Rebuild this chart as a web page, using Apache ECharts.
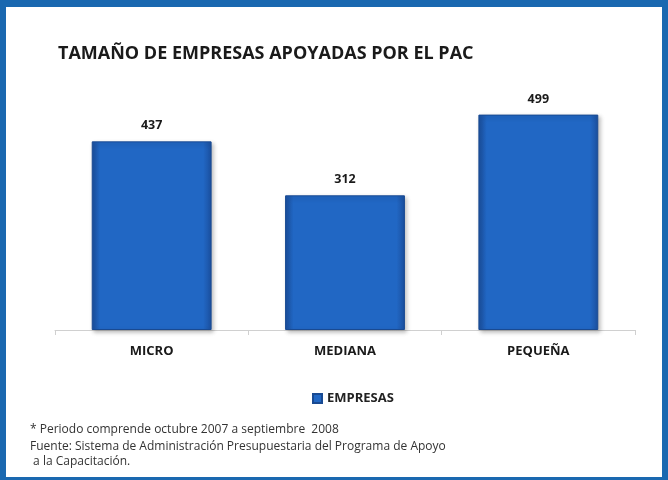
<!DOCTYPE html>
<html><head><meta charset="utf-8">
<script src="https://cdn.jsdelivr.net/npm/echarts@6/dist/echarts.min.js"></script>
<style>html,body{margin:0;padding:0;background:#fff}#c{width:668px;height:480px}</style>
</head><body><div id="c"></div>
<script>
const categories = ['MICRO', 'MEDIANA', 'PEQUEÑA'];
const empresas = [437, 312, 499];
const seriesName = 'EMPRESAS';
const titleText = 'TAMAÑO DE EMPRESAS APOYADAS POR EL PAC';
const notes = [
  '* Periodo comprende octubre 2007 a septiembre  2008',
  'Fuente: Sistema de Administración Presupuestaria del Programa de Apoyo',
  ' a la Capacitación.'
];

const chart = echarts.init(document.getElementById('c'));
const blue = '#1a68b0';
chart.setOption({
  backgroundColor: '#ffffff',
  animation: false,
  title: {
    text: titleText, left: 53, top: 40,
    textStyle: { fontFamily: 'Open Sans', fontWeight: 'bold', fontSize: 18, color: '#1a1a1a' }
  },
  legend: {
    data: [seriesName], left: 307, top: 387, icon: 'rect', itemWidth: 9, itemHeight: 9, itemGap: 4,
    textStyle: { fontFamily: 'Open Sans', fontWeight: 'bold', fontSize: 13, color: '#222' }
  },
  grid: { left: 55, right: 33, top: 71, bottom: 150 },
  xAxis: {
    type: 'category', data: categories,
    axisLine: { lineStyle: { color: '#d0d0d0' } },
    axisTick: { show: true, lineStyle: { color: '#d0d0d0' } },
    axisLabel: { margin: 15, fontFamily: 'Open Sans', fontWeight: 'bold', fontSize: 13, color: '#1a1a1a' }
  },
  yAxis: { type: 'value', min: 0, max: 600, show: false, splitLine: { show: false } },
  series: [{
    name: seriesName, type: 'bar', data: empresas, barWidth: '62%',
    itemStyle: {
      color: new echarts.graphic.LinearGradient(0, 0, 1, 0, [
        { offset: 0, color: '#1b4f9e' }, { offset: 0.07, color: '#2167c4' },
        { offset: 0.93, color: '#2167c4' }, { offset: 1, color: '#1b4f9e' }
      ]),
      borderColor: '#194a92', borderWidth: 1,
      shadowColor: 'rgba(0,0,0,0.25)', shadowBlur: 4, shadowOffsetX: 2, shadowOffsetY: 2
    },
    label: { show: true, position: 'top', distance: 9, fontFamily: 'Open Sans', fontWeight: 'bold', fontSize: 12.5, color: '#1a1a1a' }
  }],
  color: ['#2d4aa0'],
  graphic: [
    { type: 'rect', shape: { x: 0, y: 0, width: 668, height: 7 }, style: { fill: blue } },
    { type: 'rect', shape: { x: 0, y: 0, width: 6, height: 480 }, style: { fill: blue } },
    { type: 'rect', shape: { x: 662, y: 0, width: 6, height: 480 }, style: { fill: blue } },
    { type: 'rect', shape: { x: 0, y: 477, width: 668, height: 3 }, style: { fill: blue } },
    { type: 'text', left: 30, top: 424, style: { text: notes[0], font: '12px "Open Sans"', fill: '#333' } },
    { type: 'text', left: 30, top: 441, style: { text: notes[1], font: '12px "Open Sans"', fill: '#333' } },
    { type: 'text', left: 30, top: 456, style: { text: notes[2], font: '12px "Open Sans"', fill: '#333' } }
  ]
});
</script></body></html>
